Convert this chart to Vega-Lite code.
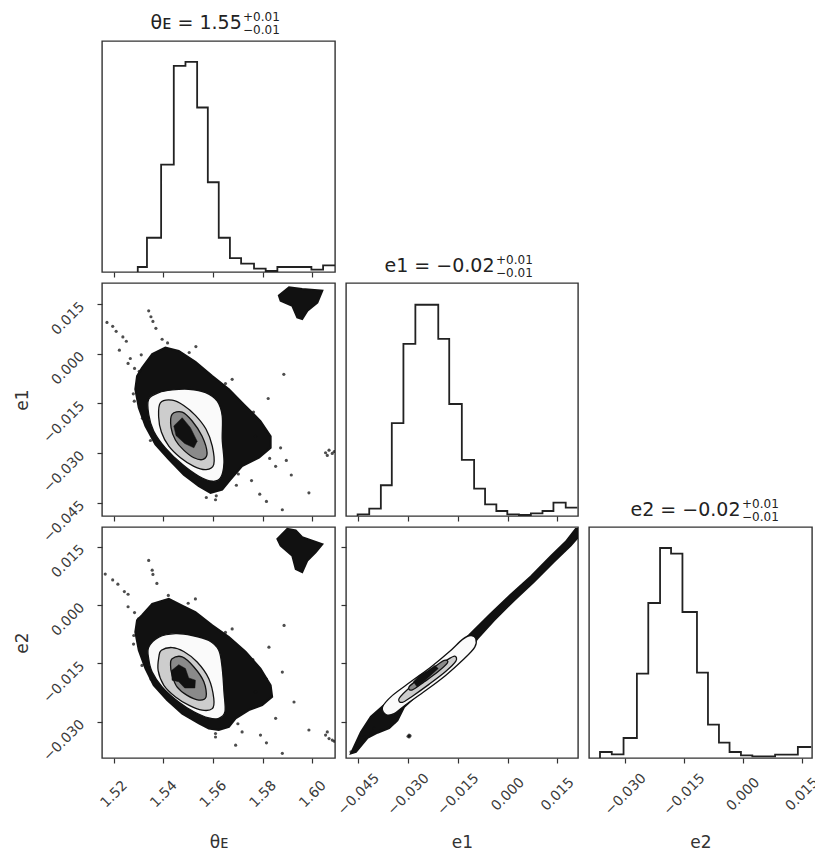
{
  "$schema": "https://vega.github.io/schema/vega-lite/v6.json",
  "background": "white",
  "padding": {"left": 12, "top": 10, "right": 0, "bottom": 0},
  "columns": 3,
  "spacing": 11,
  "bounds": "flush",
  "align": "each",
  "config": {
    "font": "DejaVu Sans",
    "view": {"stroke": "#333", "strokeWidth": 1.4},
    "axis": {"domain": false, "grid": false, "tickColor": "#333", "tickSize": 5, "tickWidth": 1.2, "labelFont": "DejaVu Sans", "labelFontSize": 14, "labelColor": "#3a3a3a", "labelAngle": -45, "labelOverlap": false, "labelFlush": false, "titleFont": "DejaVu Sans", "titleFontSize": 17, "titleFontWeight": "normal", "titleColor": "#333"},
    "axisX": {"labelAlign": "center", "labelBaseline": "middle", "labelPadding": 31, "titleY": 89, "titleBaseline": "alphabetic"},
    "axisY": {"labelAlign": "right", "labelBaseline": "middle", "labelPadding": 15, "titleX": -80, "titleBaseline": "middle"}
  },
  "datasets": {
    "h1": [
      {"x":1.5297,"c":0,"i":0},{"x":1.5297,"c":15,"i":1},{"x":1.5334,"c":103,"i":2},{"x":1.5391,"c":323,"i":3},{"x":1.5442,"c":620,"i":4},{"x":1.5489,"c":632,"i":5},{"x":1.5536,"c":495,"i":6},{"x":1.5579,"c":270,"i":7},{"x":1.5623,"c":103,"i":8},{"x":1.5668,"c":42,"i":9},{"x":1.5713,"c":25,"i":10},{"x":1.5765,"c":10,"i":11},{"x":1.5812,"c":3,"i":12},{"x":1.5859,"c":15,"i":13},{"x":1.5996,"c":7,"i":14},{"x":1.6043,"c":20,"i":15},{"x":1.6091,"c":20,"i":16}
    ],
    "h2": [
      {"x":-0.0452,"c":0,"i":0},{"x":-0.0452,"c":5,"i":1},{"x":-0.0417,"c":22,"i":2},{"x":-0.0382,"c":92,"i":3},{"x":-0.0349,"c":278,"i":4},{"x":-0.0314,"c":515,"i":5},{"x":-0.0278,"c":632,"i":6},{"x":-0.0243,"c":632,"i":7},{"x":-0.0209,"c":530,"i":8},{"x":-0.0176,"c":335,"i":9},{"x":-0.0138,"c":168,"i":10},{"x":-0.0101,"c":82,"i":11},{"x":-0.0068,"c":35,"i":12},{"x":-0.0034,"c":15,"i":13},{"x":-0.0001,"c":5,"i":14},{"x":0.0034,"c":3,"i":15},{"x":0.0070,"c":8,"i":16},{"x":0.0105,"c":15,"i":17},{"x":0.0138,"c":40,"i":18},{"x":0.0175,"c":25,"i":19},{"x":0.0210,"c":25,"i":20}
    ],
    "h3": [
      {"x":-0.0364,"c":0,"i":0},{"x":-0.0364,"c":18,"i":1},{"x":-0.0334,"c":11,"i":2},{"x":-0.0304,"c":60,"i":3},{"x":-0.0270,"c":253,"i":4},{"x":-0.0241,"c":465,"i":5},{"x":-0.0211,"c":630,"i":6},{"x":-0.0183,"c":613,"i":7},{"x":-0.0154,"c":438,"i":8},{"x":-0.0117,"c":256,"i":9},{"x":-0.0089,"c":100,"i":10},{"x":-0.0061,"c":46,"i":11},{"x":-0.0034,"c":18,"i":12},{"x":-0.0005,"c":8,"i":13},{"x":0.0024,"c":5,"i":14},{"x":0.0053,"c":5,"i":15},{"x":0.0082,"c":10,"i":16},{"x":0.0111,"c":10,"i":17},{"x":0.0140,"c":33,"i":18},{"x":0.0174,"c":33,"i":19}
    ],
    "pA": [
      {"lev":"cloud","g":"a","i":0,"x":1.5314,"y":-0.0042},{"lev":"cloud","g":"a","i":1,"x":1.5355,"y":-0.0001},{"lev":"cloud","g":"a","i":2,"x":1.5408,"y":0.0019},{"lev":"cloud","g":"a","i":3,"x":1.5462,"y":0.0009},{"lev":"cloud","g":"a","i":4,"x":1.5529,"y":-0.0024},{"lev":"cloud","g":"a","i":5,"x":1.5597,"y":-0.0067},{"lev":"cloud","g":"a","i":6,"x":1.5664,"y":-0.0107},{"lev":"cloud","g":"a","i":7,"x":1.5731,"y":-0.0158},{"lev":"cloud","g":"a","i":8,"x":1.5791,"y":-0.0203},{"lev":"cloud","g":"a","i":9,"x":1.5832,"y":-0.0249},{"lev":"cloud","g":"a","i":10,"x":1.5832,"y":-0.0284},{"lev":"cloud","g":"a","i":11,"x":1.5785,"y":-0.0314},{"lev":"cloud","g":"a","i":12,"x":1.5717,"y":-0.0339},{"lev":"cloud","g":"a","i":13,"x":1.5670,"y":-0.0380},{"lev":"cloud","g":"a","i":14,"x":1.5637,"y":-0.0410},{"lev":"cloud","g":"a","i":15,"x":1.5590,"y":-0.0420},{"lev":"cloud","g":"a","i":16,"x":1.5543,"y":-0.0400},{"lev":"cloud","g":"a","i":17,"x":1.5482,"y":-0.0365},{"lev":"cloud","g":"a","i":18,"x":1.5422,"y":-0.0319},{"lev":"cloud","g":"a","i":19,"x":1.5368,"y":-0.0274},{"lev":"cloud","g":"a","i":20,"x":1.5328,"y":-0.0218},{"lev":"cloud","g":"a","i":21,"x":1.5301,"y":-0.0163},{"lev":"cloud","g":"a","i":22,"x":1.5287,"y":-0.0107},{"lev":"cloud","g":"a","i":23,"x":1.5294,"y":-0.0067},
      {"lev":"cloud","g":"b","i":0,"x":1.5865,"y":0.0176},{"lev":"cloud","g":"b","i":1,"x":1.5906,"y":0.0201},{"lev":"cloud","g":"b","i":2,"x":1.5959,"y":0.0196},{"lev":"cloud","g":"b","i":3,"x":1.6040,"y":0.0191},{"lev":"cloud","g":"b","i":4,"x":1.6020,"y":0.0155},{"lev":"cloud","g":"b","i":5,"x":1.5980,"y":0.0130},{"lev":"cloud","g":"b","i":6,"x":1.5959,"y":0.0105},{"lev":"cloud","g":"b","i":7,"x":1.5939,"y":0.0110},{"lev":"cloud","g":"b","i":8,"x":1.5919,"y":0.0145},{"lev":"cloud","g":"b","i":9,"x":1.5872,"y":0.0160},
      {"lev":"c1","i":0,"x":1.5341,"y":-0.0137},{"lev":"c1","i":1,"x":1.5382,"y":-0.0117},{"lev":"c1","i":2,"x":1.5435,"y":-0.0109},{"lev":"c1","i":3,"x":1.5502,"y":-0.0107},{"lev":"c1","i":4,"x":1.5570,"y":-0.0117},{"lev":"c1","i":5,"x":1.5617,"y":-0.0143},{"lev":"c1","i":6,"x":1.5637,"y":-0.0188},{"lev":"c1","i":7,"x":1.5637,"y":-0.0259},{"lev":"c1","i":8,"x":1.5644,"y":-0.0329},{"lev":"c1","i":9,"x":1.5630,"y":-0.0375},{"lev":"c1","i":10,"x":1.5597,"y":-0.0385},{"lev":"c1","i":11,"x":1.5543,"y":-0.0370},{"lev":"c1","i":12,"x":1.5476,"y":-0.0334},{"lev":"c1","i":13,"x":1.5408,"y":-0.0284},{"lev":"c1","i":14,"x":1.5361,"y":-0.0233},{"lev":"c1","i":15,"x":1.5341,"y":-0.0183},
      {"lev":"c2","i":0,"x":1.5388,"y":-0.0148},{"lev":"c2","i":1,"x":1.5435,"y":-0.0140},{"lev":"c2","i":2,"x":1.5482,"y":-0.0156},{"lev":"c2","i":3,"x":1.5529,"y":-0.0186},{"lev":"c2","i":4,"x":1.5572,"y":-0.0228},{"lev":"c2","i":5,"x":1.5597,"y":-0.0279},{"lev":"c2","i":6,"x":1.5603,"y":-0.0334},{"lev":"c2","i":7,"x":1.5572,"y":-0.0350},{"lev":"c2","i":8,"x":1.5523,"y":-0.0340},{"lev":"c2","i":9,"x":1.5469,"y":-0.0314},{"lev":"c2","i":10,"x":1.5422,"y":-0.0279},{"lev":"c2","i":11,"x":1.5392,"y":-0.0236},{"lev":"c2","i":12,"x":1.5381,"y":-0.0190},
      {"lev":"c3","i":0,"x":1.5435,"y":-0.0183},{"lev":"c3","i":1,"x":1.5476,"y":-0.0176},{"lev":"c3","i":2,"x":1.5516,"y":-0.0203},{"lev":"c3","i":3,"x":1.5556,"y":-0.0249},{"lev":"c3","i":4,"x":1.5576,"y":-0.0299},{"lev":"c3","i":5,"x":1.5560,"y":-0.0319},{"lev":"c3","i":6,"x":1.5523,"y":-0.0314},{"lev":"c3","i":7,"x":1.5482,"y":-0.0291},{"lev":"c3","i":8,"x":1.5449,"y":-0.0261},{"lev":"c3","i":9,"x":1.5431,"y":-0.0223},
      {"lev":"core","i":0,"x":1.5442,"y":-0.0218},{"lev":"core","i":1,"x":1.5476,"y":-0.0193},{"lev":"core","i":2,"x":1.5509,"y":-0.0223},{"lev":"core","i":3,"x":1.5536,"y":-0.0264},{"lev":"core","i":4,"x":1.5523,"y":-0.0284},{"lev":"core","i":5,"x":1.5486,"y":-0.0271},{"lev":"core","i":6,"x":1.5451,"y":-0.0247}
    ],
    "sA": [
      {"x":1.5173,"y":0.0095},{"x":1.5196,"y":0.0083},{"x":1.5210,"y":0.0068},{"x":1.5237,"y":0.0051},{"x":1.5251,"y":0.0038},{"x":1.5223,"y":0.0011},{"x":1.5267,"y":-0.0014},{"x":1.5341,"y":0.0130},{"x":1.5350,"y":0.0112},{"x":1.5358,"y":0.0098},{"x":1.5370,"y":0.0077},{"x":1.5531,"y":0.0022},{"x":1.5677,"y":-0.0077},{"x":1.5822,"y":-0.0135},{"x":1.5885,"y":-0.0062},{"x":1.5872,"y":-0.0284},{"x":1.5895,"y":-0.0322},{"x":1.5915,"y":-0.0366},{"x":1.5986,"y":-0.0420},{"x":1.5788,"y":-0.0424},{"x":1.5815,"y":-0.0446},{"x":1.5879,"y":-0.0471},{"x":1.5610,"y":-0.0441},{"x":1.5694,"y":-0.0397},{"x":1.5852,"y":-0.0340},{"x":1.5771,"y":-0.0249},{"x":1.5258,"y":-0.0029},{"x":1.5284,"y":-0.0044},{"x":1.5311,"y":-0.0003},{"x":1.5395,"y":0.0044},{"x":1.5828,"y":-0.0316},{"x":1.5755,"y":-0.0383},{"x":1.5279,"y":-0.0121},{"x":1.5316,"y":-0.0195},{"x":1.5573,"y":-0.0434},{"x":1.6053,"y":-0.0299},{"x":1.6067,"y":-0.0291},{"x":1.6080,"y":-0.0301},{"x":1.6060,"y":-0.0307},{"x":1.6088,"y":-0.0295},{"x":1.5303,"y":-0.0053},{"x":1.5417,"y":0.0033},{"x":1.5504,"y":0.0004},{"x":1.5650,"y":-0.0090},{"x":1.5763,"y":-0.0176},{"x":1.5812,"y":-0.0233},{"x":1.5702,"y":-0.0363},{"x":1.5613,"y":-0.0429},{"x":1.5283,"y":-0.0143},{"x":1.5348,"y":-0.0262}
    ],
    "pB": [
      {"lev":"cloud","g":"a","i":0,"x":1.5314,"y":-0.0026},{"lev":"cloud","g":"a","i":1,"x":1.5355,"y":0.0003},{"lev":"cloud","g":"a","i":2,"x":1.5422,"y":0.0016},{"lev":"cloud","g":"a","i":3,"x":1.5476,"y":-0.0001},{"lev":"cloud","g":"a","i":4,"x":1.5529,"y":-0.0018},{"lev":"cloud","g":"a","i":5,"x":1.5597,"y":-0.0052},{"lev":"cloud","g":"a","i":6,"x":1.5664,"y":-0.0082},{"lev":"cloud","g":"a","i":7,"x":1.5731,"y":-0.0120},{"lev":"cloud","g":"a","i":8,"x":1.5791,"y":-0.0163},{"lev":"cloud","g":"a","i":9,"x":1.5832,"y":-0.0206},{"lev":"cloud","g":"a","i":10,"x":1.5838,"y":-0.0236},{"lev":"cloud","g":"a","i":11,"x":1.5798,"y":-0.0257},{"lev":"cloud","g":"a","i":12,"x":1.5744,"y":-0.0270},{"lev":"cloud","g":"a","i":13,"x":1.5691,"y":-0.0291},{"lev":"cloud","g":"a","i":14,"x":1.5664,"y":-0.0313},{"lev":"cloud","g":"a","i":15,"x":1.5623,"y":-0.0321},{"lev":"cloud","g":"a","i":16,"x":1.5583,"y":-0.0317},{"lev":"cloud","g":"a","i":17,"x":1.5543,"y":-0.0304},{"lev":"cloud","g":"a","i":18,"x":1.5476,"y":-0.0279},{"lev":"cloud","g":"a","i":19,"x":1.5415,"y":-0.0244},{"lev":"cloud","g":"a","i":20,"x":1.5361,"y":-0.0206},{"lev":"cloud","g":"a","i":21,"x":1.5328,"y":-0.0163},{"lev":"cloud","g":"a","i":22,"x":1.5301,"y":-0.0116},{"lev":"cloud","g":"a","i":23,"x":1.5287,"y":-0.0069},{"lev":"cloud","g":"a","i":24,"x":1.5294,"y":-0.0039},
      {"lev":"cloud","g":"b","i":0,"x":1.5859,"y":0.0170},{"lev":"cloud","g":"b","i":1,"x":1.5899,"y":0.0196},{"lev":"cloud","g":"b","i":2,"x":1.5933,"y":0.0192},{"lev":"cloud","g":"b","i":3,"x":1.5959,"y":0.0175},{"lev":"cloud","g":"b","i":4,"x":1.6040,"y":0.0157},{"lev":"cloud","g":"b","i":5,"x":1.6013,"y":0.0136},{"lev":"cloud","g":"b","i":6,"x":1.5980,"y":0.0115},{"lev":"cloud","g":"b","i":7,"x":1.5959,"y":0.0085},{"lev":"cloud","g":"b","i":8,"x":1.5933,"y":0.0093},{"lev":"cloud","g":"b","i":9,"x":1.5919,"y":0.0127},{"lev":"cloud","g":"b","i":10,"x":1.5872,"y":0.0153},
      {"lev":"c1","i":0,"x":1.5341,"y":-0.0108},{"lev":"c1","i":1,"x":1.5382,"y":-0.0082},{"lev":"c1","i":2,"x":1.5449,"y":-0.0073},{"lev":"c1","i":3,"x":1.5516,"y":-0.0078},{"lev":"c1","i":4,"x":1.5583,"y":-0.0091},{"lev":"c1","i":5,"x":1.5623,"y":-0.0116},{"lev":"c1","i":6,"x":1.5637,"y":-0.0163},{"lev":"c1","i":7,"x":1.5644,"y":-0.0223},{"lev":"c1","i":8,"x":1.5648,"y":-0.0274},{"lev":"c1","i":9,"x":1.5623,"y":-0.0291},{"lev":"c1","i":10,"x":1.5583,"y":-0.0290},{"lev":"c1","i":11,"x":1.5523,"y":-0.0274},{"lev":"c1","i":12,"x":1.5462,"y":-0.0249},{"lev":"c1","i":13,"x":1.5395,"y":-0.0210},{"lev":"c1","i":14,"x":1.5355,"y":-0.0172},{"lev":"c1","i":15,"x":1.5341,"y":-0.0138},
      {"lev":"c2","i":0,"x":1.5392,"y":-0.0116},{"lev":"c2","i":1,"x":1.5435,"y":-0.0109},{"lev":"c2","i":2,"x":1.5482,"y":-0.0119},{"lev":"c2","i":3,"x":1.5536,"y":-0.0146},{"lev":"c2","i":4,"x":1.5583,"y":-0.0189},{"lev":"c2","i":5,"x":1.5603,"y":-0.0240},{"lev":"c2","i":6,"x":1.5597,"y":-0.0266},{"lev":"c2","i":7,"x":1.5556,"y":-0.0270},{"lev":"c2","i":8,"x":1.5502,"y":-0.0257},{"lev":"c2","i":9,"x":1.5449,"y":-0.0236},{"lev":"c2","i":10,"x":1.5402,"y":-0.0206},{"lev":"c2","i":11,"x":1.5379,"y":-0.0168},{"lev":"c2","i":12,"x":1.5382,"y":-0.0133},
      {"lev":"c3","i":0,"x":1.5435,"y":-0.0138},{"lev":"c3","i":1,"x":1.5476,"y":-0.0133},{"lev":"c3","i":2,"x":1.5523,"y":-0.0159},{"lev":"c3","i":3,"x":1.5563,"y":-0.0197},{"lev":"c3","i":4,"x":1.5572,"y":-0.0236},{"lev":"c3","i":5,"x":1.5543,"y":-0.0244},{"lev":"c3","i":6,"x":1.5496,"y":-0.0232},{"lev":"c3","i":7,"x":1.5455,"y":-0.0210},{"lev":"c3","i":8,"x":1.5435,"y":-0.0180},{"lev":"c3","i":9,"x":1.5429,"y":-0.0155},
      {"lev":"core","i":0,"x":1.5433,"y":-0.0168},{"lev":"core","i":1,"x":1.5462,"y":-0.0153},{"lev":"core","i":2,"x":1.5489,"y":-0.0163},{"lev":"core","i":3,"x":1.5502,"y":-0.0187},{"lev":"core","i":4,"x":1.5529,"y":-0.0193},{"lev":"core","i":5,"x":1.5527,"y":-0.0213},{"lev":"core","i":6,"x":1.5486,"y":-0.0213},{"lev":"core","i":7,"x":1.5462,"y":-0.0197},{"lev":"core","i":8,"x":1.5435,"y":-0.0193}
    ],
    "sB": [
      {"x":1.5166,"y":0.0080},{"x":1.5196,"y":0.0065},{"x":1.5217,"y":0.0054},{"x":1.5243,"y":0.0035},{"x":1.5258,"y":0.0028},{"x":1.5341,"y":0.0115},{"x":1.5355,"y":0.0090},{"x":1.5358,"y":0.0079},{"x":1.5374,"y":0.0056},{"x":1.5529,"y":0.0016},{"x":1.5677,"y":-0.0061},{"x":1.5825,"y":-0.0108},{"x":1.5886,"y":-0.0052},{"x":1.5879,"y":-0.0172},{"x":1.5926,"y":-0.0249},{"x":1.5986,"y":-0.0321},{"x":1.5791,"y":-0.0334},{"x":1.5815,"y":-0.0354},{"x":1.5879,"y":-0.0381},{"x":1.5691,"y":-0.0360},{"x":1.5610,"y":-0.0339},{"x":1.5852,"y":-0.0291},{"x":1.5717,"y":-0.0326},{"x":1.5258,"y":-0.0004},{"x":1.5284,"y":-0.0019},{"x":1.5771,"y":-0.0223},{"x":1.5281,"y":-0.0078},{"x":1.5314,"y":-0.0155},{"x":1.6053,"y":-0.0334},{"x":1.6067,"y":-0.0343},{"x":1.6080,"y":-0.0347},{"x":1.6060,"y":-0.0326},{"x":1.6088,"y":-0.0350},{"x":1.5300,"y":-0.0035},{"x":1.5420,"y":0.0025},{"x":1.5500,"y":0.0005},{"x":1.5650,"y":-0.0070},{"x":1.5760,"y":-0.0140},{"x":1.5815,"y":-0.0190},{"x":1.5700,"y":-0.0305},{"x":1.5610,"y":-0.0330},{"x":1.5280,"y":-0.0100},{"x":1.5350,"y":-0.0190}
    ],
    "pC": [
      {"lev":"cloud","g":"a","i":0,"x":-0.0472,"y":-0.0381},{"lev":"cloud","g":"a","i":1,"x":-0.0442,"y":-0.0326},{"lev":"cloud","g":"a","i":2,"x":-0.0412,"y":-0.0287},{"lev":"cloud","g":"a","i":3,"x":-0.0367,"y":-0.0253},{"lev":"cloud","g":"a","i":4,"x":-0.0302,"y":-0.0210},{"lev":"cloud","g":"a","i":5,"x":-0.0231,"y":-0.0168},{"lev":"cloud","g":"a","i":6,"x":-0.0171,"y":-0.0125},{"lev":"cloud","g":"a","i":7,"x":-0.0111,"y":-0.0073},{"lev":"cloud","g":"a","i":8,"x":-0.0051,"y":-0.0022},{"lev":"cloud","g":"a","i":9,"x":0.0009,"y":0.0027},{"lev":"cloud","g":"a","i":10,"x":0.0070,"y":0.0074},{"lev":"cloud","g":"a","i":11,"x":0.0130,"y":0.0126},{"lev":"cloud","g":"a","i":12,"x":0.0175,"y":0.0163},{"lev":"cloud","g":"a","i":13,"x":0.0205,"y":0.0196},{"lev":"cloud","g":"a","i":14,"x":0.0212,"y":0.0196},{"lev":"cloud","g":"a","i":15,"x":0.0212,"y":0.0175},{"lev":"cloud","g":"a","i":16,"x":0.0190,"y":0.0153},{"lev":"cloud","g":"a","i":17,"x":0.0140,"y":0.0112},{"lev":"cloud","g":"a","i":18,"x":0.0080,"y":0.0061},{"lev":"cloud","g":"a","i":19,"x":0.0019,"y":0.0012},{"lev":"cloud","g":"a","i":20,"x":-0.0041,"y":-0.0039},{"lev":"cloud","g":"a","i":21,"x":-0.0091,"y":-0.0086},{"lev":"cloud","g":"a","i":22,"x":-0.0121,"y":-0.0120},{"lev":"cloud","g":"a","i":23,"x":-0.0171,"y":-0.0159},{"lev":"cloud","g":"a","i":24,"x":-0.0241,"y":-0.0206},{"lev":"cloud","g":"a","i":25,"x":-0.0312,"y":-0.0262},{"lev":"cloud","g":"a","i":26,"x":-0.0332,"y":-0.0296},{"lev":"cloud","g":"a","i":27,"x":-0.0357,"y":-0.0316},{"lev":"cloud","g":"a","i":28,"x":-0.0392,"y":-0.0328},{"lev":"cloud","g":"a","i":29,"x":-0.0422,"y":-0.0341},{"lev":"cloud","g":"a","i":30,"x":-0.0457,"y":-0.0377},
      {"lev":"c1","i":0,"x":-0.0377,"y":-0.0262},{"lev":"c1","i":1,"x":-0.0347,"y":-0.0232},{"lev":"c1","i":2,"x":-0.0292,"y":-0.0197},{"lev":"c1","i":3,"x":-0.0231,"y":-0.0159},{"lev":"c1","i":4,"x":-0.0176,"y":-0.0120},{"lev":"c1","i":5,"x":-0.0136,"y":-0.0088},{"lev":"c1","i":6,"x":-0.0111,"y":-0.0078},{"lev":"c1","i":7,"x":-0.0096,"y":-0.0086},{"lev":"c1","i":8,"x":-0.0099,"y":-0.0108},{"lev":"c1","i":9,"x":-0.0131,"y":-0.0138},{"lev":"c1","i":10,"x":-0.0186,"y":-0.0180},{"lev":"c1","i":11,"x":-0.0246,"y":-0.0219},{"lev":"c1","i":12,"x":-0.0307,"y":-0.0256},{"lev":"c1","i":13,"x":-0.0342,"y":-0.0279},{"lev":"c1","i":14,"x":-0.0367,"y":-0.0281},
      {"lev":"c2","i":0,"x":-0.0327,"y":-0.0240},{"lev":"c2","i":1,"x":-0.0287,"y":-0.0206},{"lev":"c2","i":2,"x":-0.0231,"y":-0.0170},{"lev":"c2","i":3,"x":-0.0181,"y":-0.0140},{"lev":"c2","i":4,"x":-0.0159,"y":-0.0131},{"lev":"c2","i":5,"x":-0.0156,"y":-0.0144},{"lev":"c2","i":6,"x":-0.0186,"y":-0.0170},{"lev":"c2","i":7,"x":-0.0236,"y":-0.0203},{"lev":"c2","i":8,"x":-0.0287,"y":-0.0234},{"lev":"c2","i":9,"x":-0.0317,"y":-0.0250},
      {"lev":"c3","i":0,"x":-0.0297,"y":-0.0210},{"lev":"c3","i":1,"x":-0.0261,"y":-0.0185},{"lev":"c3","i":2,"x":-0.0221,"y":-0.0159},{"lev":"c3","i":3,"x":-0.0191,"y":-0.0142},{"lev":"c3","i":4,"x":-0.0181,"y":-0.0148},{"lev":"c3","i":5,"x":-0.0211,"y":-0.0172},{"lev":"c3","i":6,"x":-0.0251,"y":-0.0197},{"lev":"c3","i":7,"x":-0.0287,"y":-0.0218},
      {"lev":"core","i":0,"x":-0.0284,"y":-0.0197},{"lev":"core","i":1,"x":-0.0266,"y":-0.0180},{"lev":"core","i":2,"x":-0.0241,"y":-0.0168},{"lev":"core","i":3,"x":-0.0219,"y":-0.0155},{"lev":"core","i":4,"x":-0.0209,"y":-0.0163},{"lev":"core","i":5,"x":-0.0231,"y":-0.0180},{"lev":"core","i":6,"x":-0.0256,"y":-0.0199},{"lev":"core","i":7,"x":-0.0273,"y":-0.0210}
    ],
    "sC": [
      {"x":-0.0297,"y":-0.0334},{"x":-0.0294,"y":-0.0336},{"x":-0.0300,"y":-0.0337},{"x":-0.0297,"y":-0.0339},{"x":-0.0472,"y":-0.0377},{"x":-0.0452,"y":-0.0368},{"x":-0.0432,"y":-0.0339},{"x":-0.0412,"y":-0.0330},{"x":-0.0402,"y":-0.0317},{"x":-0.0462,"y":-0.0372},{"x":-0.0380,"y":-0.0320},{"x":-0.0340,"y":-0.0300},{"x":0.0170,"y":0.0141},{"x":0.0100,"y":0.0082},{"x":-0.0120,"y":-0.0105}
    ]
  },
  "concat": [
    {
      "width": 233, "height": 231,
      "data": {"name": "h1"},
      "title": {"text": "+0.01", "subtitle": "−0.01", "anchor": "start", "frame": "group", "dx": 141, "offset": -24, "fontSize": 12, "subtitleFontSize": 12, "subtitlePadding": 1, "fontWeight": "normal", "color": "#222", "subtitleColor": "#222", "font": "DejaVu Sans", "subtitleFont": "DejaVu Sans"},
      "mark": {"type": "line", "interpolate": "step-after", "color": "#222", "strokeWidth": 1.8, "clip": true},
      "encoding": {
        "x": {"field": "x", "type": "quantitative", "scale": {"domain": [1.5153, 1.6091], "nice": false, "zero": false}, "axis": {"values": [1.52, 1.54, 1.56, 1.58, 1.6], "labels": false, "title": null}},
        "y": {"field": "c", "type": "quantitative", "scale": {"domain": [0, 695], "nice": false}, "axis": {"title": "θᴇ = 1.55", "ticks": false, "labels": false, "titleAngle": 0.01, "titleAlign": "left", "titleBaseline": "alphabetic", "titleX": 48, "titleY": -13, "titleFontSize": 19, "titleColor": "#222"}},
        "order": {"field": "i", "type": "quantitative"}
      }
    },
    {"width": 232, "height": 231, "data": {"values": [{}]}, "mark": {"type": "point", "opacity": 0}, "view": {"stroke": null}},
    {"width": 223, "height": 231, "data": {"values": [{}]}, "mark": {"type": "point", "opacity": 0}, "view": {"stroke": null}},
    {
      "width": 233, "height": 233,
      "data": {"name": "pA"},
      "encoding": {
        "x": {"field": "x", "type": "quantitative", "scale": {"domain": [1.5153, 1.6091], "nice": false, "zero": false}, "axis": {"values": [1.52, 1.54, 1.56, 1.58, 1.6], "labels": false, "title": null}},
        "y": {"field": "y", "type": "quantitative", "scale": {"domain": [-0.049, 0.0214], "nice": false, "zero": false}, "axis": {"values": [-0.045, -0.03, -0.015, 0, 0.015], "format": ".3f", "title": "e1"}}
      },
      "layer": [
        {"transform": [{"filter": "datum.lev == 'cloud'"}], "mark": {"type": "line", "filled": true, "interpolate": "linear-closed", "fill": "#111", "stroke": "#111", "strokeWidth": 2, "clip": true}, "encoding": {"order": {"field": "i", "type": "quantitative"}, "detail": {"field": "g"}}},
        {"data": {"name": "sA"}, "mark": {"type": "point", "filled": true, "size": 10, "color": "#111", "opacity": 0.75, "clip": true}},
        {"transform": [{"filter": "datum.lev == 'c1'"}], "mark": {"type": "line", "filled": true, "interpolate": "cardinal-closed", "fill": "#fafafa", "stroke": "#111", "strokeWidth": 1.3, "clip": true}, "encoding": {"order": {"field": "i", "type": "quantitative"}}},
        {"transform": [{"filter": "datum.lev == 'c2'"}], "mark": {"type": "line", "filled": true, "interpolate": "cardinal-closed", "fill": "#cdcdcd", "stroke": "#111", "strokeWidth": 1.3, "clip": true}, "encoding": {"order": {"field": "i", "type": "quantitative"}}},
        {"transform": [{"filter": "datum.lev == 'c3'"}], "mark": {"type": "line", "filled": true, "interpolate": "cardinal-closed", "fill": "#8a8a8a", "stroke": "#111", "strokeWidth": 1.3, "clip": true}, "encoding": {"order": {"field": "i", "type": "quantitative"}}},
        {"transform": [{"filter": "datum.lev == 'core'"}], "mark": {"type": "line", "filled": true, "interpolate": "linear-closed", "fill": "#111", "stroke": "#111", "strokeWidth": 0.5, "clip": true}, "encoding": {"order": {"field": "i", "type": "quantitative"}}}
      ]
    },
    {
      "width": 232, "height": 233,
      "data": {"name": "h2"},
      "title": {"text": "+0.01", "subtitle": "−0.01", "anchor": "start", "frame": "group", "dx": 150, "offset": -24, "fontSize": 12, "subtitleFontSize": 12, "subtitlePadding": 1, "fontWeight": "normal", "color": "#222", "subtitleColor": "#222", "font": "DejaVu Sans", "subtitleFont": "DejaVu Sans"},
      "mark": {"type": "line", "interpolate": "step-after", "color": "#222", "strokeWidth": 1.8, "clip": true},
      "encoding": {
        "x": {"field": "x", "type": "quantitative", "scale": {"domain": [-0.0487, 0.0212], "nice": false, "zero": false}, "axis": {"values": [-0.045, -0.03, -0.015, 0, 0.015], "labels": false, "title": null}},
        "y": {"field": "c", "type": "quantitative", "scale": {"domain": [0, 697], "nice": false}, "axis": {"title": "e1 = −0.02", "ticks": false, "labels": false, "titleAngle": 0.01, "titleAlign": "left", "titleBaseline": "alphabetic", "titleX": 38, "titleY": -12, "titleFontSize": 19, "titleColor": "#222"}},
        "order": {"field": "i", "type": "quantitative"}
      }
    },
    {"width": 223, "height": 233, "data": {"values": [{}]}, "mark": {"type": "point", "opacity": 0}, "view": {"stroke": null}},
    {
      "width": 233, "height": 231,
      "data": {"name": "pB"},
      "encoding": {
        "x": {"field": "x", "type": "quantitative", "scale": {"domain": [1.5153, 1.6091], "nice": false, "zero": false}, "axis": {"values": [1.52, 1.54, 1.56, 1.58, 1.6], "format": ".2f", "title": "θᴇ"}},
        "y": {"field": "y", "type": "quantitative", "scale": {"domain": [-0.0393, 0.0201], "nice": false, "zero": false}, "axis": {"values": [-0.03, -0.015, 0, 0.015], "format": ".3f", "title": "e2"}}
      },
      "layer": [
        {"transform": [{"filter": "datum.lev == 'cloud'"}], "mark": {"type": "line", "filled": true, "interpolate": "linear-closed", "fill": "#111", "stroke": "#111", "strokeWidth": 2, "clip": true}, "encoding": {"order": {"field": "i", "type": "quantitative"}, "detail": {"field": "g"}}},
        {"data": {"name": "sB"}, "mark": {"type": "point", "filled": true, "size": 10, "color": "#111", "opacity": 0.75, "clip": true}},
        {"transform": [{"filter": "datum.lev == 'c1'"}], "mark": {"type": "line", "filled": true, "interpolate": "cardinal-closed", "fill": "#fafafa", "stroke": "#111", "strokeWidth": 1.3, "clip": true}, "encoding": {"order": {"field": "i", "type": "quantitative"}}},
        {"transform": [{"filter": "datum.lev == 'c2'"}], "mark": {"type": "line", "filled": true, "interpolate": "cardinal-closed", "fill": "#cdcdcd", "stroke": "#111", "strokeWidth": 1.3, "clip": true}, "encoding": {"order": {"field": "i", "type": "quantitative"}}},
        {"transform": [{"filter": "datum.lev == 'c3'"}], "mark": {"type": "line", "filled": true, "interpolate": "cardinal-closed", "fill": "#8a8a8a", "stroke": "#111", "strokeWidth": 1.3, "clip": true}, "encoding": {"order": {"field": "i", "type": "quantitative"}}},
        {"transform": [{"filter": "datum.lev == 'core'"}], "mark": {"type": "line", "filled": true, "interpolate": "linear-closed", "fill": "#111", "stroke": "#111", "strokeWidth": 0.5, "clip": true}, "encoding": {"order": {"field": "i", "type": "quantitative"}}}
      ]
    },
    {
      "width": 232, "height": 231,
      "data": {"name": "pC"},
      "encoding": {
        "x": {"field": "x", "type": "quantitative", "scale": {"domain": [-0.0487, 0.0212], "nice": false, "zero": false}, "axis": {"values": [-0.045, -0.03, -0.015, 0, 0.015], "format": ".3f", "title": "e1"}},
        "y": {"field": "y", "type": "quantitative", "scale": {"domain": [-0.0393, 0.0201], "nice": false, "zero": false}, "axis": {"values": [-0.03, -0.015, 0, 0.015], "labels": false, "title": null}}
      },
      "layer": [
        {"transform": [{"filter": "datum.lev == 'cloud'"}], "mark": {"type": "line", "filled": true, "interpolate": "linear-closed", "fill": "#111", "stroke": "#111", "strokeWidth": 2, "clip": true}, "encoding": {"order": {"field": "i", "type": "quantitative"}, "detail": {"field": "g"}}},
        {"data": {"name": "sC"}, "mark": {"type": "point", "filled": true, "size": 10, "color": "#111", "opacity": 0.75, "clip": true}},
        {"transform": [{"filter": "datum.lev == 'c1'"}], "mark": {"type": "line", "filled": true, "interpolate": "cardinal-closed", "fill": "#fafafa", "stroke": "#111", "strokeWidth": 1.3, "clip": true}, "encoding": {"order": {"field": "i", "type": "quantitative"}}},
        {"transform": [{"filter": "datum.lev == 'c2'"}], "mark": {"type": "line", "filled": true, "interpolate": "cardinal-closed", "fill": "#cdcdcd", "stroke": "#111", "strokeWidth": 1.3, "clip": true}, "encoding": {"order": {"field": "i", "type": "quantitative"}}},
        {"transform": [{"filter": "datum.lev == 'c3'"}], "mark": {"type": "line", "filled": true, "interpolate": "cardinal-closed", "fill": "#8a8a8a", "stroke": "#111", "strokeWidth": 1.3, "clip": true}, "encoding": {"order": {"field": "i", "type": "quantitative"}}},
        {"transform": [{"filter": "datum.lev == 'core'"}], "mark": {"type": "line", "filled": true, "interpolate": "linear-closed", "fill": "#111", "stroke": "#111", "strokeWidth": 0.5, "clip": true}, "encoding": {"order": {"field": "i", "type": "quantitative"}}}
      ]
    },
    {
      "width": 223, "height": 231,
      "data": {"name": "h3"},
      "title": {"text": "+0.01", "subtitle": "−0.01", "anchor": "start", "frame": "group", "dx": 153, "offset": -24, "fontSize": 12, "subtitleFontSize": 12, "subtitlePadding": 1, "fontWeight": "normal", "color": "#222", "subtitleColor": "#222", "font": "DejaVu Sans", "subtitleFont": "DejaVu Sans"},
      "mark": {"type": "line", "interpolate": "step-after", "color": "#222", "strokeWidth": 1.8, "clip": true},
      "encoding": {
        "x": {"field": "x", "type": "quantitative", "scale": {"domain": [-0.0392, 0.0176], "nice": false, "zero": false}, "axis": {"values": [-0.03, -0.015, 0, 0.015], "format": ".3f", "title": "e2"}},
        "y": {"field": "c", "type": "quantitative", "scale": {"domain": [0, 693], "nice": false}, "axis": {"title": "e2 = −0.02", "ticks": false, "labels": false, "titleAngle": 0.01, "titleAlign": "left", "titleBaseline": "alphabetic", "titleX": 41, "titleY": -12, "titleFontSize": 19, "titleColor": "#222"}},
        "order": {"field": "i", "type": "quantitative"}
      }
    }
  ]
}
